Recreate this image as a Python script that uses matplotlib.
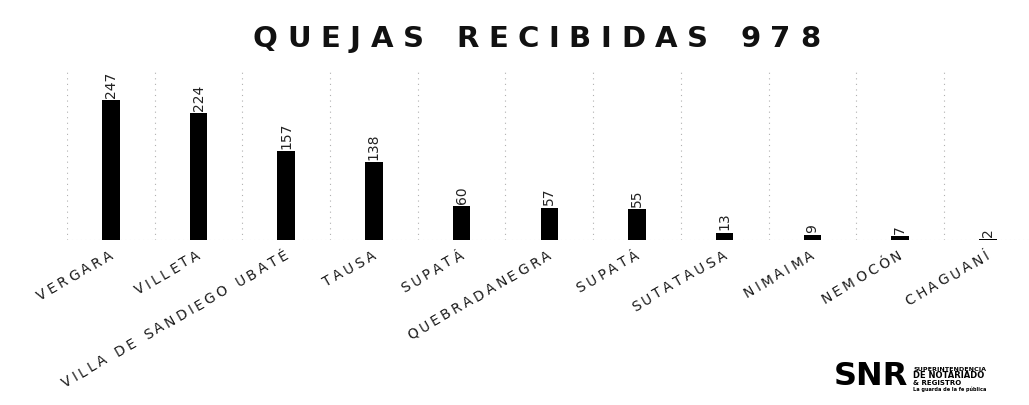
import numpy as np
import matplotlib
matplotlib.use("Agg")
from matplotlib import pyplot as plt
from matplotlib.transforms import IdentityTransform

municipios = ['VERGARA', 'VILLETA', 'VILLA DE SANDIEGO UBATÉ', 'TAUSA', 'SUPATÁ',
              'QUEBRADANEGRA', 'SUPATÁ', 'SUTATAUSA', 'NIMAIMA', 'NEMOCÓN', 'CHAGUANÍ']
quejas = [247, 224, 157, 138, 60, 57, 55, 13, 9, 7, 2]
titulo = 'QUEJAS RECIBIDAS 978'

W, H = 1029, 405
fig = plt.figure(figsize=(W / 100, H / 100), dpi=100)
ax = fig.add_axes([67 / W, 165 / H, (W - 67) / W, 170 / H])

ind = np.arange(len(municipios))
ax.bar(ind, quejas, width=0.2, color='black', zorder=3)
ax.set_xlim(-0.5, 10.47)
ax.set_ylim(0, 300)

# faint dotted separators between categories
for xb in np.arange(-0.5, len(municipios), 1.0):
    ax.axvline(xb, color='#b0b0b0', lw=0.8, ls=(0, (1, 4)), zorder=1)
ax.axhline(0, color='#c8c8c8', lw=0.8, ls=(0, (1, 3)), zorder=1)

for i, v in zip(ind, quejas):
    ax.text(i, v + 4, str(v), rotation=90, ha='center', va='bottom', fontsize=10,
            family=['Liberation Sans Narrow', 'DejaVu Sans'], color='#222222')

ax.set_xticks([])
ax.set_yticks([])
for s in ax.spines.values():
    s.set_visible(False)

fig.canvas.draw()
r = fig.canvas.get_renderer()


def widths(s, **kw):
    out = []
    for c in s:
        if c == ' ':
            out.append(None)
            continue
        t = fig.text(0, 0, c, **kw)
        out.append(t.get_window_extent(renderer=r).width)
        t.remove()
    return out


def spaced(s, x_end, y_end, angle, gap, space, **kw):
    # place characters of s along a line that ends at (x_end, y_end), pixels from bottom-left
    ws = widths(s, **kw)
    adv = [(space if w is None else w) for w in ws]
    total = sum(adv) + gap * (len(s) - 1)
    ca, sa = np.cos(np.radians(angle)), np.sin(np.radians(angle))
    x, y = x_end - total * ca, y_end - total * sa
    for c, a in zip(s, adv):
        if c != ' ':
            fig.text(x, y, c, transform=IdentityTransform(), rotation=angle,
                     rotation_mode='anchor', ha='left', va='baseline', **kw)
        x += (a + gap) * ca
        y += (a + gap) * sa


# letter-spaced title
spaced(titulo, 820, H - 47, 0, 9.6, 13, fontsize=21, fontweight='heavy',
       family='DejaVu Sans', color='#111111')

# letter-spaced, slanted category labels
for i, name in zip(ind, municipios):
    xe = ax.transData.transform((i, 0))[0] + 3
    spaced(name, xe, H - 258, 30, 3.0, 5, fontsize=10, family='DejaVu Sans', color='#1a1a1a')

# logo
fig.text(834, H - 385, 'SNR', transform=IdentityTransform(), fontsize=23,
         fontweight='heavy', family='DejaVu Sans', color='black', va='baseline', ha='left')
fig.text(913, H - 371, 'SUPERINTENDENCIA', transform=IdentityTransform(),
         fontsize=4.6, fontweight='bold', color='black', va='baseline')
fig.text(913, H - 378, 'DE NOTARIADO', transform=IdentityTransform(),
         fontsize=6, fontweight='bold', color='black', va='baseline')
fig.text(913, H - 385, '& REGISTRO', transform=IdentityTransform(),
         fontsize=5, fontweight='bold', color='black', va='baseline')
fig.text(913, H - 391, 'La guarda de la fe pública', transform=IdentityTransform(),
         fontsize=3.6, fontweight='bold', color='black', va='baseline')

fig.savefig('out.png', dpi=100, facecolor='white')
